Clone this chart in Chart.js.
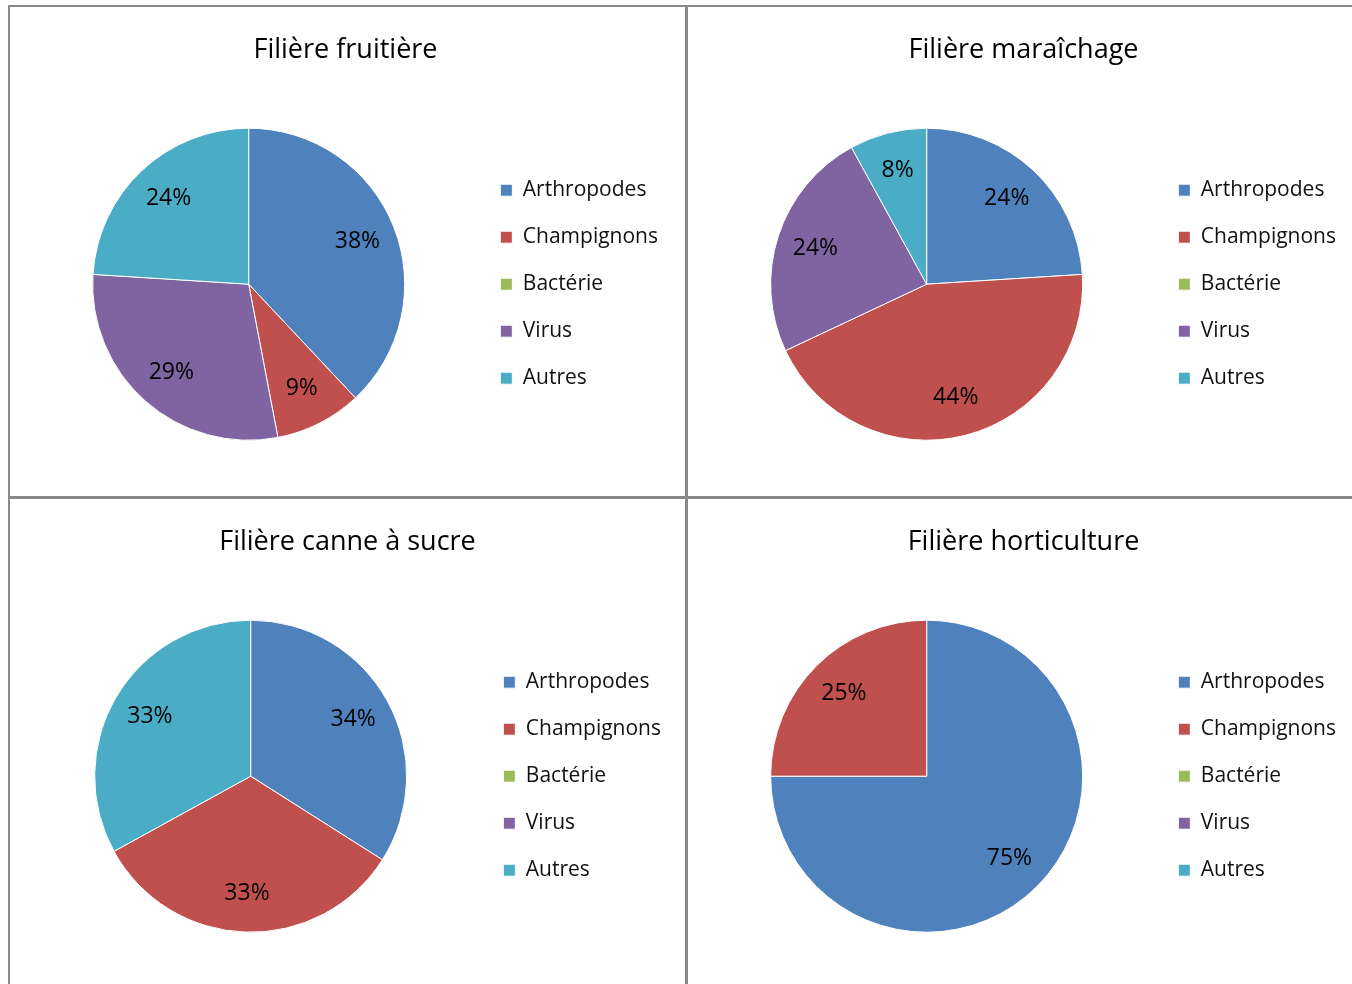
<!DOCTYPE html>
<html lang="fr">
<head>
<meta charset="UTF-8" />
<title>Filières | Répartition des bioagresseurs</title>
<script src="https://cdn.jsdelivr.net/npm/chart.js"></script>
<style>
  html, body { margin: 0; padding: 0; background: #fff; overflow: hidden; }
  .panel {
    position: absolute;
    width: 675px;
    height: 489px;
    border: 2px solid #898989;
    background: #fff;
  }
  .panel canvas { display: block; }
</style>
</head>
<body>
  <div class="panel" style="left:8px;top:5px"><canvas id="c1" width="675" height="489"></canvas></div>
  <div class="panel" style="left:686px;top:5px"><canvas id="c2" width="675" height="489"></canvas></div>
  <div class="panel" style="left:8px;top:497px"><canvas id="c3" width="675" height="489"></canvas></div>
  <div class="panel" style="left:686px;top:497px"><canvas id="c4" width="675" height="489"></canvas></div>

<script>
// Données
const categories = ["Arthropodes", "Champignons", "Bactérie", "Virus", "Autres"];
const fruitiere = [38, 9, 0, 29, 24];
const maraichage = [24, 44, 0, 24, 8];
const canneASucre = [34, 33, 0, 0, 33];
const horticulture = [75, 25, 0, 0, 0];
const titres = ["Filière fruitière", "Filière maraîchage", "Filière canne à sucre", "Filière horticulture"];

const couleurs = ["#4F81BD", "#C0504D", "#9BBB59", "#8064A2", "#4BACC6"];
const police = "'Open Sans'";

// Pourcentages dans les parts
const pctLabels = {
  id: "pctLabels",
  afterDatasetsDraw(chart) {
    const ctx = chart.ctx;
    const ds = chart.data.datasets[0];
    const total = ds.data.reduce((a, b) => a + b, 0);
    chart.getDatasetMeta(0).data.forEach((arc, i) => {
      const v = ds.data[i];
      if (!v) return;
      const p = arc.getProps(["x", "y", "startAngle", "endAngle", "outerRadius"], true);
      const mid = (p.startAngle + p.endAngle) / 2;
      const r = p.outerRadius * 0.75;
      ctx.save();
      ctx.font = "23px " + police;
      ctx.fillStyle = "#000";
      ctx.textAlign = "center";
      ctx.textBaseline = "middle";
      ctx.fillText(Math.round((v / total) * 100) + "%", p.x + Math.cos(mid) * r, p.y + Math.sin(mid) * r);
      ctx.restore();
    });
  },
};

function camembert(id, titre, valeurs, decalage) {
  new Chart(document.getElementById(id), {
    type: "pie",
    data: {
      labels: categories,
      datasets: [{
        data: valeurs,
        backgroundColor: couleurs,
        borderColor: "#fff",
        borderWidth: 1,
        radius: 156,
      }],
    },
    plugins: [pctLabels],
    options: {
      responsive: false,
      animation: false,
      layout: { padding: { left: 13 + decalage, right: 17 - 3 * decalage, top: 0, bottom: 1 } },
      plugins: {
        title: {
          display: true,
          text: titre,
          color: "#000",
          font: { family: police, size: 27, weight: "normal" },
          padding: { top: 27, bottom: 7 },
        },
        legend: {
          position: "right",
          fullSize: false,
          labels: {
            color: "#111",
            font: { family: police, size: 21 },
            boxWidth: 12,
            boxHeight: 12,
            padding: 26,
          },
        },
        tooltip: { enabled: false },
      },
    },
  });
}

camembert("c1", titres[0], fruitiere, 0);
camembert("c2", titres[1], maraichage, 0);
camembert("c3", titres[2], canneASucre, 1);
camembert("c4", titres[3], horticulture, 0);
</script>
</body>
</html>
